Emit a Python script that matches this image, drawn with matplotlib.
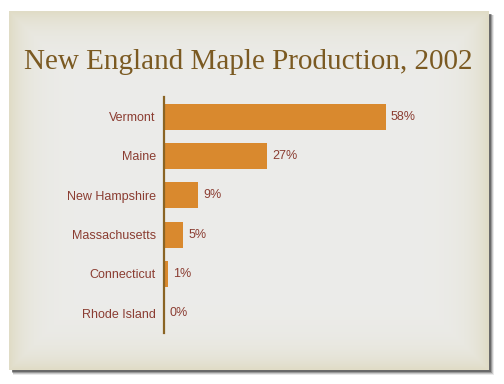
import matplotlib.pyplot as plt
import numpy as np
from matplotlib.patches import Rectangle

states = ["Vermont", "Maine", "New Hampshire", "Massachusetts", "Connecticut", "Rhode Island"]
shares = [58, 27, 9, 5, 1, 0]
title = "New England Maple Production, 2002"

W, H = 504, 384
fig = plt.figure(figsize=(W / 100, H / 100), dpi=100, facecolor="white")


def px(x0, y0, x1, y1):
    # pixel box (top-left origin) -> figure fraction rect
    return [x0 / W, 1 - y1 / H, (x1 - x0) / W, (y1 - y0) / H]


# drop shadow of the slide
for i, a in enumerate([0.10, 0.18, 0.30, 0.45]):
    r = px(13 - i * 0.5, 15 - i * 0.5, 493.5 - i, 374.5 - i)
    fig.patches.append(Rectangle((r[0], r[1]), r[2], r[3], transform=fig.transFigure,
                                 facecolor="#303030", edgecolor="none", alpha=a, zorder=0))

# slide background with beige vignette
bg = fig.add_axes(px(9, 11, 489, 370), zorder=1)
nx, ny = 480, 359
xx, yy = np.meshgrid(np.arange(nx), np.arange(ny))
d = np.minimum(np.minimum(xx, nx - 1 - xx), np.minimum(yy, ny - 1 - yy)).astype(float)
t = 1 - np.exp(-d / 18.0)
edge = np.array([0xe0, 0xdc, 0xc6]) / 255
center = np.array([0xec, 0xec, 0xea]) / 255
img = edge[None, None, :] * (1 - t[..., None]) + center[None, None, :] * t[..., None]
bg.imshow(img, aspect="auto", interpolation="bilinear")
bg.axis("off")

fig.text(248.5 / W, 1 - 69 / H, title, ha="center", va="baseline",
         family="Liberation Serif", fontsize=21, color="#7b5a22", zorder=3)

ax = fig.add_axes(px(164, 97, 470, 333), zorder=2)
ax.patch.set_alpha(0)
y = np.arange(len(states))
bars = ax.barh(y, shares, height=0.66, color="#d9892e")
ax.set_ylim(len(states) - 0.5, -0.5)
ax.set_xlim(0, 80)
ax.set_yticks(y)
ax.set_yticklabels(states, fontsize=9, color="#8b3d32", family="Liberation Sans")
ax.tick_params(axis="y", length=0, pad=6)
ax.set_xticks([])
for s in ["top", "right", "bottom"]:
    ax.spines[s].set_visible(False)
ax.spines["left"].set_color("#8a6424")
ax.spines["left"].set_linewidth(1.6)
for b, v in zip(bars, shares):
    ax.annotate(f"{v}%", (b.get_width(), b.get_y() + b.get_height() / 2),
                xytext=(5, 0), textcoords="offset pixels", va="center", ha="left",
                fontsize=9, color="#8b3d32", family="Liberation Sans")

fig.savefig("out.png", dpi=100, facecolor="white")
